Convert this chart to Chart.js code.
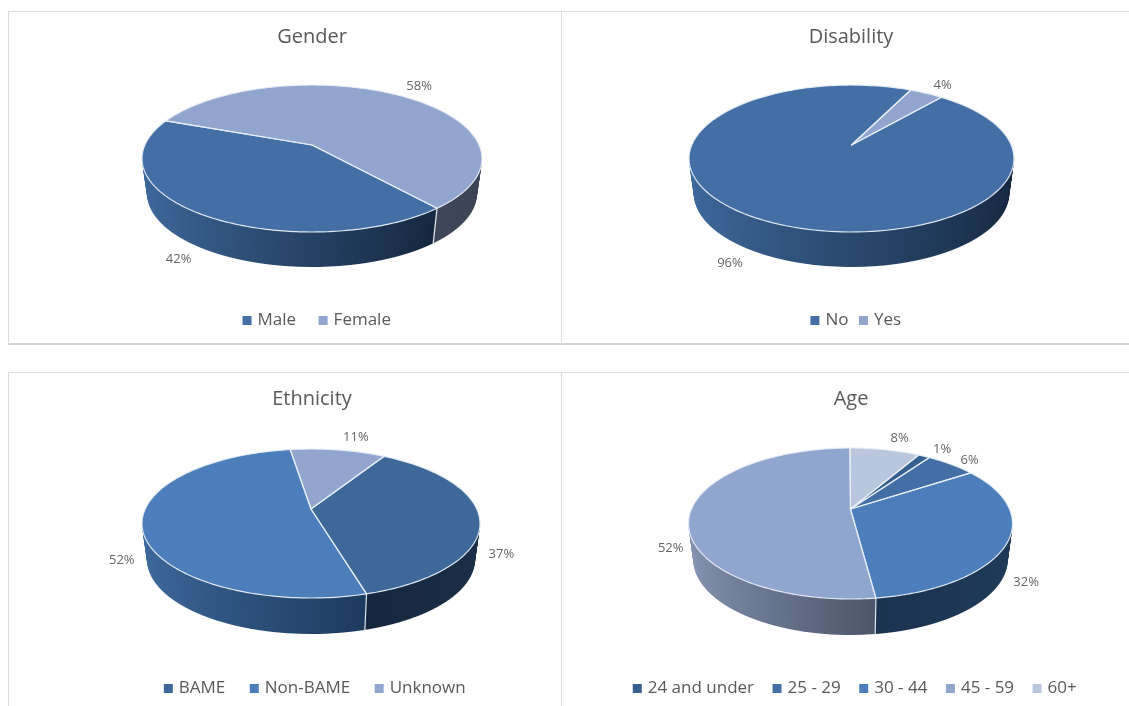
<!DOCTYPE html>
<html lang="en">
<head>
  <meta charset="UTF-8" />
  <title>Workforce profile</title>
  <script src="https://cdn.jsdelivr.net/npm/chart.js"></script>
  <style>
    html, body { margin: 0; padding: 0; background: #fff; overflow: hidden; }
    body { width: 1129px; height: 706px; position: relative; }
    canvas { position: absolute; }
    .frame { position: absolute; box-sizing: border-box; border: 1px solid #dcdcdc; }
  </style>
</head>
<body>
  <div class="frame" style="left:8px;top:11px;width:554px;height:334px;border-bottom:2px solid #d4d4d4;"></div>
  <div class="frame" style="left:561px;top:11px;width:570px;height:334px;border-bottom:2px solid #d4d4d4;"></div>
  <div class="frame" style="left:8px;top:372px;width:554px;height:340px;"></div>
  <div class="frame" style="left:561px;top:372px;width:570px;height:340px;"></div>

  <canvas id="gender" width="498" height="334" style="left:63px;top:10px"></canvas>
  <canvas id="disability" width="556" height="334" style="left:573px;top:10px"></canvas>
  <canvas id="ethnicity" width="498" height="346" style="left:63px;top:372px"></canvas>
  <canvas id="age" width="556" height="346" style="left:573px;top:372px"></canvas>

  <script>
    const genderLabels = ['Male', 'Female'];
    const genderValues = [42, 58];
    const genderColors = ['#436FA6', '#91A5CF'];
    const genderWallLeft = ['#3F6A9E', '#3E4759'];
    const genderWallRight = ['#15273F', '#3A4353'];

    const disabilityLabels = ['No', 'Yes'];
    const disabilityValues = [96, 4];
    const disabilityColors = ['#436FA6', '#91A5CF'];
    const disabilityWallLeft = ['#3F6A9E', '#3E4759'];
    const disabilityWallRight = ['#15273F', '#3A4353'];

    const ethnicityLabels = ['BAME', 'Non-BAME', 'Unknown'];
    const ethnicityValues = [37, 52, 11];
    const ethnicityColors = ['#3D6899', '#4B7EBB', '#91A5CF'];
    const ethnicityWallLeft = ['#15273F', '#3F6A9E', '#3E4759'];
    const ethnicityWallRight = ['#1B3048', '#1D3A5F', '#3A4353'];

    const ageLabels = ['24 and under', '25 - 29', '30 - 44', '45 - 59', '60+'];
    const ageValues = [1.4, 6, 32.2, 52, 8.4];
    const ageColors = ['#36608F', '#436FA6', '#4C7EBB', '#91A6CE', '#B9C6DD'];
    const ageWallLeft = ['#1B3048', '#1B3048', '#1C3350', '#8795B3', '#5B6578'];
    const ageWallRight = ['#1B3048', '#1B3048', '#203A58', '#4C566B', '#5B6578'];

    const fontName = '"Open Sans", "Noto Sans", sans-serif';
    const textColor = '#595959';

    // draws the pie's own arcs through a perspective tilt, one pixel row at a time
    const tiltPlugin = {
      id: 'tilt',
      afterLayout(chart, args, opts) {
        chart.legend.left += opts.legendShift;
        chart.legend.right += opts.legendShift;
      },
      beforeDatasetsDraw(chart, args, opts) {
        const ctx = chart.ctx;
        const arcs = chart.getDatasetMeta(0).data;
        const xc = arcs[0].x, yc = arcs[0].y, R = arcs[0].outerRadius;

        // perspective numbers from the ellipse's top, bottom and the pie's centre
        const up = opts.vertexY - opts.top, down = opts.bottom - opts.vertexY;
        const p = (down - up) / (down + up);
        const f = up * (1 + p);
        const g = opts.rx * Math.sqrt(1 - p * p);
        const widest = opts.vertexY + f * p / (1 - p * p);
        const shrink = 0.03;

        const project = (u, v, s) => {
          const w = 1 - p * v;
          return [opts.cx + g * u / w * (1 - shrink * s), opts.vertexY + f * v / w + opts.depth * s];
        };
        chart.$project = project;

        const ghost = (arc, fill) => {
          const g2 = Object.create(arc);
          g2.options = { backgroundColor: fill, borderColor: fill, borderWidth: 0, borderAlign: 'center',
            borderJoinStyle: 'round', offset: 0, spacing: 0, borderRadius: 0, circular: true,
            selfJoin: false, borderDash: [], borderDashOffset: 0 };
          return g2;
        };

        const drawRows = (list, s, fromY, toY) => {
          const k = 1 - shrink * s;
          for (let y = Math.floor(fromY); y < Math.ceil(toY); y++) {
            const t = y + 0.5 - opts.vertexY - opts.depth * s;
            const v = t / (f + p * t);
            if (v < -1 || v > 1) continue;
            const w = 1 - p * v;
            const sx = g * k / (R * w), sy = f / (w * w * R);
            ctx.save();
            ctx.beginPath();
            ctx.rect(0, y, chart.width, 1);
            ctx.clip();
            ctx.transform(sx, 0, 0, sy, opts.cx - sx * xc, y + 0.5 - sy * (yc + R * v));
            list.forEach(a => a.draw(ctx));
            ctx.restore();
          }
        };

        // side wall: a stack of shifted copies, each slice with a left to right gradient
        const walls = [];
        arcs.forEach((arc, i) => {
          let lo = 2, hi = -2;
          for (let n = 0; n <= 120; n++) {
            const a = arc.startAngle + (arc.endAngle - arc.startAngle) * n / 120;
            if (Math.sin(a) >= 0) { lo = Math.min(lo, Math.cos(a)); hi = Math.max(hi, Math.cos(a)); }
          }
          if (hi < lo) return;
          const grad = ctx.createLinearGradient(xc + R * lo, 0, xc + R * hi, 0);
          grad.addColorStop(0, opts.wallLeft[i]);
          grad.addColorStop(1, opts.wallRight[i]);
          walls.push(ghost(arc, grad));
        });
        for (let d = opts.depth; d >= 1; d--) {
          const s = d / opts.depth;
          drawRows(walls, s, widest + d - 1, opts.bottom + d + 1);
        }

        // top face
        const tops = arcs.map(arc => ghost(arc, arc.options.backgroundColor));
        drawRows(tops, 0, opts.top - 1, opts.bottom + 1);

        // thin light edges of the slices and the seams down the wall
        ctx.save();
        ctx.strokeStyle = 'rgba(232,238,246,0.95)';
        ctx.lineWidth = 1.2;
        ctx.lineJoin = 'round';
        arcs.forEach(arc => {
          ctx.beginPath();
          let pt = project(0, 0, 0);
          ctx.moveTo(pt[0], pt[1]);
          for (let n = 0; n <= 160; n++) {
            const a = arc.startAngle + (arc.endAngle - arc.startAngle) * n / 160;
            pt = project(Math.cos(a), Math.sin(a), 0);
            ctx.lineTo(pt[0], pt[1]);
          }
          ctx.closePath();
          ctx.stroke();
          if (Math.sin(arc.startAngle) > p) {
            const a = project(Math.cos(arc.startAngle), Math.sin(arc.startAngle), 0);
            const b = project(Math.cos(arc.startAngle), Math.sin(arc.startAngle), 1);
            ctx.beginPath();
            ctx.moveTo(a[0], a[1]);
            ctx.lineTo(b[0], b[1]);
            ctx.stroke();
          }
        });
        ctx.restore();
        return false;
      },
      // percent labels, placed outside the rim of each slice
      afterDraw(chart, args, opts) {
        const ctx = chart.ctx;
        const arcs = chart.getDatasetMeta(0).data;
        const values = chart.data.datasets[0].data;
        ctx.save();
        ctx.font = '13px ' + fontName;
        ctx.fillStyle = '#666666';
        ctx.textAlign = 'center';
        ctx.textBaseline = 'middle';
        arcs.forEach((arc, i) => {
          const mid = (arc.startAngle + arc.endAngle) / 2;
          const u = Math.cos(mid), v = Math.sin(mid);
          const wall = v > -0.1 ? 1 : 0;
          const pt = chart.$project(u, v, wall);
          const nudge = opts.labelNudge[i];
          ctx.fillText(Math.round(values[i]) + '%', pt[0] + u * 30 + nudge[0], pt[1] + v * 14 + nudge[1]);
        });
        ctx.restore();
      }
    };

    function makePie(id, labels, values, colors, wallLeft, wallRight, rotation, left, top, shape, legend, labelNudge, title) {
      new Chart(document.getElementById(id), {
        type: 'pie',
        data: {
          labels: labels,
          datasets: [{ data: values, backgroundColor: colors, borderWidth: 0 }]
        },
        options: {
          responsive: false,
          animation: false,
          rotation: rotation,
          layout: { padding: { bottom: legend.pad } },
          plugins: {
            title: {
              display: true,
              text: title,
              color: textColor,
              font: { family: fontName, size: 20, weight: 'normal' },
              padding: { top: 15, bottom: 10 }
            },
            legend: {
              position: 'bottom',
              onClick: null,
              labels: {
                color: textColor,
                font: { family: fontName, size: 17 },
                usePointStyle: true,
                pointStyle: 'rect',
                boxWidth: 4,
                boxHeight: 9,
                padding: legend.gap,
                generateLabels(chart) {
                  return Chart.overrides.pie.plugins.legend.labels.generateLabels(chart)
                    .map(item => Object.assign(item, { lineWidth: 0 }));
                }
              }
            },
            tooltip: { enabled: false },
            tilt: {
              cx: shape.cx - left,
              vertexY: shape.vertexY - top,
              top: shape.top - top,
              bottom: shape.bottom - top,
              rx: shape.rx,
              depth: shape.depth,
              wallLeft: wallLeft,
              wallRight: wallRight,
              legendShift: legend.shift,
              labelNudge: labelNudge
            }
          }
        },
        plugins: [tiltPlugin]
      });
    }

    makePie('gender', genderLabels, genderValues, genderColors, genderWallLeft, genderWallRight, 140, 63, 10,
      { cx: 312, vertexY: 145, top: 85, bottom: 232, rx: 170, depth: 35 },
      { pad: 5, gap: 25, shift: 6 }, [[-5, 0], [5, 3]], 'Gender');
    makePie('disability', disabilityLabels, disabilityValues, disabilityColors, disabilityWallLeft, disabilityWallRight, 40, 573, 10,
      { cx: 851.5, vertexY: 145, top: 85, bottom: 232, rx: 162.5, depth: 35 },
      { pad: 5, gap: 13, shift: 6 }, [[-6, 1], [0, 4]], 'Disability');
    makePie('ethnicity', ethnicityLabels, ethnicityValues, ethnicityColors, ethnicityWallLeft, ethnicityWallRight, 31, 63, 372,
      { cx: 311, vertexY: 509, top: 449, bottom: 598, rx: 169, depth: 36 },
      { pad: 11, gap: 27, shift: 4 }, [[-3, -2], [4, -3], [12, 1]], 'Ethnicity');
    makePie('age', ageLabels, ageValues, ageColors, ageWallLeft, ageWallRight, 30, 573, 372,
      { cx: 850.5, vertexY: 509, top: 448, bottom: 599, rx: 162, depth: 36 },
      { pad: 11, gap: 21, shift: 5 }, [[2, 5], [-3, 6], [-4, -1], [6, -3], [7, 2]], 'Age');
  </script>
</body>
</html>
